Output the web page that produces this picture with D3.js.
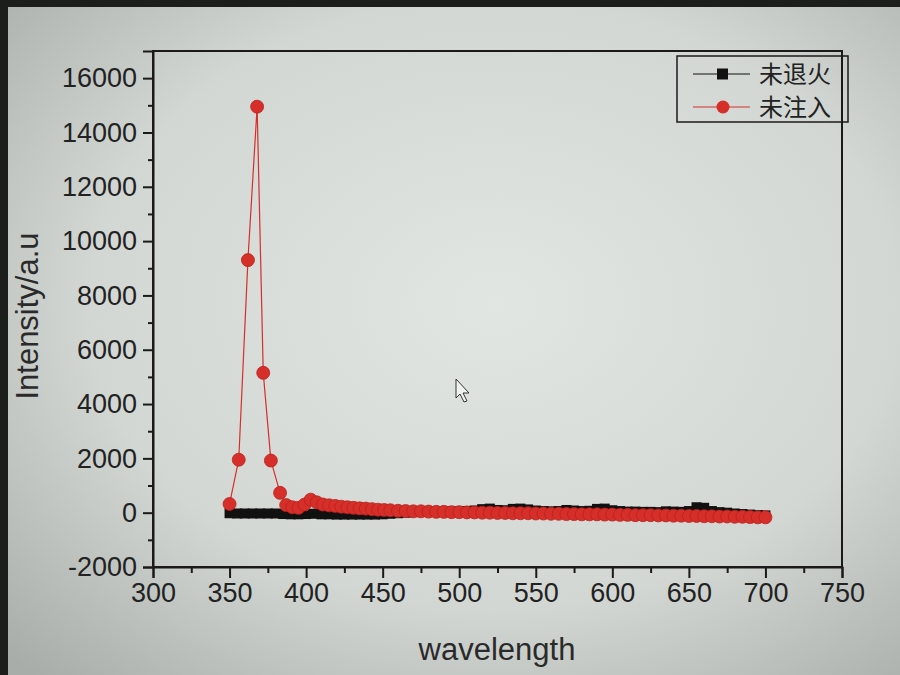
<!DOCTYPE html>
<html>
<head>
<meta charset="utf-8">
<script src="https://cdn.jsdelivr.net/npm/d3@7"></script>
<style>
  body { margin: 0; background: #c8ccc8; }
  svg { display: block; }
</style>
</head>
<body>
<div id="chart"></div>
<script>
// spectra
var blackWave = [350,355,360,365,370,375,380,385,390,395,400,405,410,415,420,425,430,435,440,445,
                 450,455,460,465,470,475,480,485,490,495,500,505,510,515,520,525,530,535,540,545,
                 550,555,560,565,570,575,580,585,590,595,600,605,610,615,620,625,630,635,640,645,
                 650,655,660,665,670,675,680,685,690,695,700];
var blackVal = [-20,-30,-30,-30,-30,-30,-30,-50,-60,-60,-50,-40,-60,-60,-70,-70,-70,-70,-70,-70,
                -60,-40,-20,0,20,30,40,40,50,40,40,60,80,130,150,100,90,140,150,120,
                80,60,50,60,100,80,60,70,140,150,90,60,40,40,30,30,20,50,40,30,
                60,200,180,60,20,0,-30,-50,-70,-90,-100];

var redWave = [350,356,362,368,372,377,383,387,391,395,399,403,407,411,415,419,423,427,431,435,
               439,443,447,451,455,460,465,470,475,480,485,490,495,500,505,510,515,520,525,530,
               535,540,545,550,555,560,565,570,575,580,585,590,595,600,605,610,615,620,625,630,
               635,640,645,650,655,660,665,670,675,680,685,690,695,700];
var redVal = [320,1950,9300,14950,5150,1920,730,280,200,180,300,480,380,300,270,250,220,200,180,160,
              150,130,110,100,90,70,60,50,50,40,30,30,20,20,10,10,0,0,-10,-10,
              -20,-20,-20,-30,-30,-40,-40,-50,-50,-60,-60,-60,-70,-70,-80,-80,-90,-90,-90,-100,
              -100,-110,-110,-120,-120,-130,-130,-140,-140,-150,-150,-160,-170,-170];

var xTicks = [300,350,400,450,500,550,600,650,700,750];
var xMinor = [325,375,425,475,525,575,625,675,725];
var yTicks = [-2000,0,2000,4000,6000,8000,10000,12000,14000,16000];
var yMinor = [-1000,1000,3000,5000,7000,9000,11000,13000,15000];
var seriesNames = ["未退火", "未注入"];

var width = 900, height = 675;
var plotL = 153, plotR = 842, plotT = 51, plotB = 567;
var red = "#d62e28";

var svg = d3.select("#chart").append("svg")
	.attr("width", width)
	.attr("height", height);

// photo of the monitor: vignette + bezel
var defs = svg.append("defs");
var grad = defs.append("radialGradient").attr("id", "bg")
	.attr("cx", "0.55").attr("cy", "0.45").attr("r", "0.75");
grad.append("stop").attr("offset", "0").attr("stop-color", "#e2e6e2");
grad.append("stop").attr("offset", "0.6").attr("stop-color", "#d3d7d3");
grad.append("stop").attr("offset", "1").attr("stop-color", "#a9ada9");
svg.append("rect").attr("width", width).attr("height", height).attr("fill", "url(#bg)");
svg.append("rect").attr("width", width).attr("height", 7).attr("fill", "#1c1e1c");
svg.append("rect").attr("width", 8).attr("height", height).attr("fill", "#1c1e1c");

var x = d3.scaleLinear().domain([300, 750]).range([plotL, plotR]);
var y = d3.scaleLinear().domain([-2000, 17000]).range([plotB, plotT]);

// frame
svg.append("rect")
	.attr("x", plotL).attr("y", plotT)
	.attr("width", plotR - plotL).attr("height", plotB - plotT)
	.attr("fill", "none").attr("stroke", "#1a1a1a").attr("stroke-width", 2);

var font = "'Liberation Sans', Arial, sans-serif";
var fmt = function(d) { return String(d); }; // plain hyphen for -2000

// x axis
svg.append("g").attr("transform", "translate(0," + plotB + ")")
	.call(d3.axisBottom(x).tickValues(xTicks).tickSize(11).tickPadding(5).tickFormat(fmt));
svg.append("g").attr("transform", "translate(0," + plotB + ")")
	.call(d3.axisBottom(x).tickValues(xMinor).tickSize(6).tickFormat(""))
	.select(".domain").remove();

// y axis
svg.append("g").attr("transform", "translate(" + plotL + ",0)")
	.call(d3.axisLeft(y).tickValues(yTicks).tickSize(10).tickPadding(6).tickFormat(fmt));
svg.append("g").attr("transform", "translate(" + plotL + ",0)")
	.call(d3.axisLeft(y).tickValues(yMinor).tickSize(5).tickFormat(""))
	.select(".domain").remove();

svg.selectAll(".domain").attr("stroke", "#1a1a1a").attr("stroke-width", 2);
svg.selectAll(".tick line").attr("stroke", "#1a1a1a").attr("stroke-width", 2);
svg.selectAll(".tick text").attr("fill", "#222").style("font-family", font).style("font-size", "27px");

// axis titles
svg.append("text")
	.attr("x", 497).attr("y", 660)
	.attr("text-anchor", "middle")
	.style("font-family", font).style("font-size", "31px").attr("fill", "#2a2a2a")
	.text("wavelength");
svg.append("text")
	.attr("transform", "translate(38,316) rotate(-90)")
	.attr("text-anchor", "middle")
	.style("font-family", font).style("font-size", "31px").attr("fill", "#2a2a2a")
	.text("Intensity/a.u");

var line = d3.line()
	.x(function(d) { return x(d[0]); })
	.y(function(d) { return y(d[1]); });

var blackData = d3.zip(blackWave, blackVal);
var redData = d3.zip(redWave, redVal);

svg.append("path").datum(blackData)
	.attr("d", line).attr("fill", "none").attr("stroke", "#111").attr("stroke-width", 1);
svg.selectAll(".sq").data(blackData).enter().append("rect")
	.attr("class", "sq")
	.attr("x", function(d) { return x(d[0]) - 5; })
	.attr("y", function(d) { return y(d[1]) - 5; })
	.attr("width", 10).attr("height", 10)
	.attr("fill", "#111");

svg.append("path").datum(redData)
	.attr("d", line).attr("fill", "none").attr("stroke", red).attr("stroke-width", 1.2);
svg.selectAll(".dot").data(redData).enter().append("circle")
	.attr("class", "dot")
	.attr("cx", function(d) { return x(d[0]); })
	.attr("cy", function(d) { return y(d[1]); })
	.attr("r", 6.5)
	.attr("fill", red)
	.attr("stroke", "#b8221e").attr("stroke-width", 0.8);

// legend
var lg = svg.append("g");
lg.append("rect")
	.attr("x", 677).attr("y", 56).attr("width", 171).attr("height", 66)
	.attr("fill", "none").attr("stroke", "#1a1a1a").attr("stroke-width", 1.5);
var rows = [{ name: seriesNames[0], color: "#111", y: 74 }, { name: seriesNames[1], color: red, y: 107 }];
rows.forEach(function(r, i) {
	lg.append("line")
		.attr("x1", 693).attr("x2", 750).attr("y1", r.y).attr("y2", r.y)
		.attr("stroke", r.color).attr("stroke-width", 1);
	if (i == 0) {
		lg.append("rect").attr("x", 717).attr("y", r.y - 5.5).attr("width", 11).attr("height", 11).attr("fill", r.color);
	} else {
		lg.append("circle").attr("cx", 723).attr("cy", r.y).attr("r", 6.5).attr("fill", r.color);
	}
	lg.append("text")
		.attr("x", 759).attr("y", r.y + 9)
		.style("font-family", "'Noto Sans CJK SC', sans-serif").style("font-size", "24px")
		.attr("fill", "#222")
		.text(r.name);
});

// mouse pointer visible in the photo
svg.append("path")
	.attr("d", "M456,379 L456,398 L460,394 L464,402 L467,401 L463,393 L469,393 Z")
	.attr("fill", "#f0f2f0").attr("stroke", "#333").attr("stroke-width", 1);
</script>
</body>
</html>
